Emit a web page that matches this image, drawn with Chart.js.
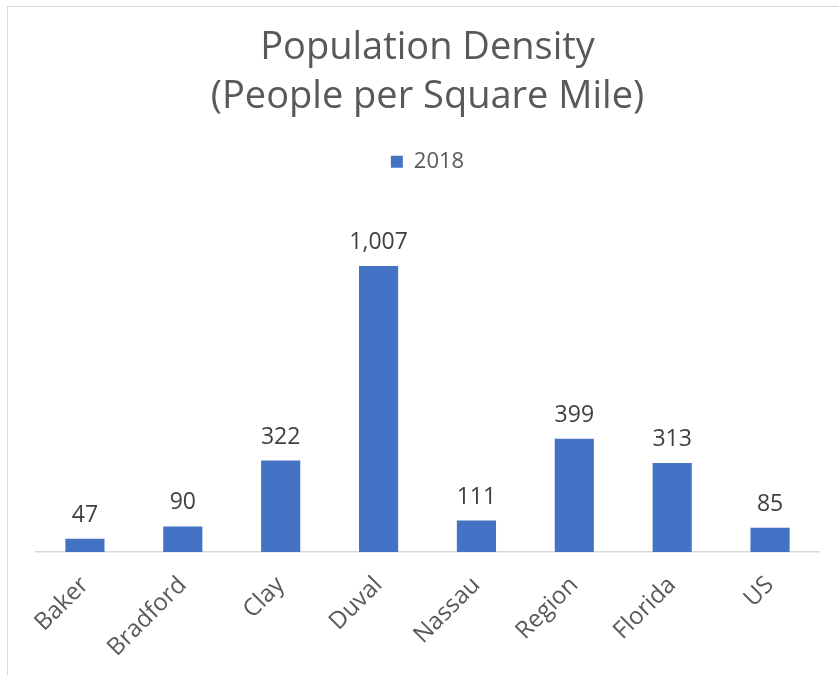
<!DOCTYPE html>
<html lang="en">
<head>
    <meta charset="UTF-8">
    <title>Population Density</title>
    <script src="https://cdn.jsdelivr.net/npm/chart.js"></script>
    <style>
        body { margin: 0; background: #ffffff; }
        #wrap { position: relative; width: 839px; height: 675px; }
        #frame {
            position: absolute; left: 7px; top: 6px; width: 860px; height: 700px;
            border: 1.5px solid #d9d9d9; pointer-events: none;
        }
    </style>
</head>
<body>
<div id="wrap">
    <canvas id="densityChart" width="839" height="675"></canvas>
    <div id="frame"></div>
</div>

<script>
    const areas = ['Baker', 'Bradford', 'Clay', 'Duval', 'Nassau', 'Region', 'Florida', 'US'];
    const density2018 = [47, 90, 322, 1007, 111, 399, 313, 85];
    const seriesName = '2018';
    const titleLines = ['Population Density', '(People per Square Mile)'];

    const textGray = '#595959';

    // draw the value above each bar
    const valueLabels = {
        id: 'valueLabels',
        afterDatasetsDraw(chart) {
            const ctx = chart.ctx;
            ctx.save();
            ctx.font = '23px "Open Sans"';
            ctx.fillStyle = '#404040';
            ctx.textAlign = 'center';
            ctx.textBaseline = 'bottom';
            chart.getDatasetMeta(0).data.forEach((bar, i) => {
                const v = chart.data.datasets[0].data[i];
                ctx.fillText(v.toLocaleString('en-US'), bar.x, bar.y - 12);
            });
            ctx.restore();
        }
    };

    const ctx = document.getElementById('densityChart').getContext('2d');
    const densityChart = new Chart(ctx, {
        type: 'bar',
        data: {
            labels: areas,
            datasets: [{
                label: seriesName,
                data: density2018,
                backgroundColor: '#4472C4',
                borderWidth: 0,
                categoryPercentage: 1.0,
                barPercentage: 0.4
            }]
        },
        options: {
            responsive: false,
            animation: false,
            layout: {
                padding: { left: 36, right: 20, top: 23, bottom: 1 }
            },
            plugins: {
                title: {
                    display: true,
                    text: titleLines,
                    color: textGray,
                    font: { family: 'Open Sans', size: 38, weight: 'normal', lineHeight: 1.3 },
                    padding: { top: 0, bottom: 19 }
                },
                legend: {
                    display: true,
                    position: 'top',
                    labels: {
                        color: textGray,
                        font: { family: 'Open Sans', size: 22 },
                        boxWidth: 12,
                        boxHeight: 12,
                        padding: 10
                    }
                },
                tooltip: { enabled: false }
            },
            scales: {
                x: {
                    grid: { display: false },
                    border: { color: '#d9d9d9', width: 1.5 },
                    ticks: {
                        color: textGray,
                        font: { family: 'Open Sans', size: 24 },
                        minRotation: 45,
                        maxRotation: 45,
                        padding: 11
                    },
                    // keep the axis line where the original has it
                    afterFit(scale) {
                        scale.height = 122;
                    }
                },
                y: {
                    display: false,
                    min: 0,
                    max: 1300
                }
            }
        },
        plugins: [valueLabels]
    });
</script>
</body>
</html>
